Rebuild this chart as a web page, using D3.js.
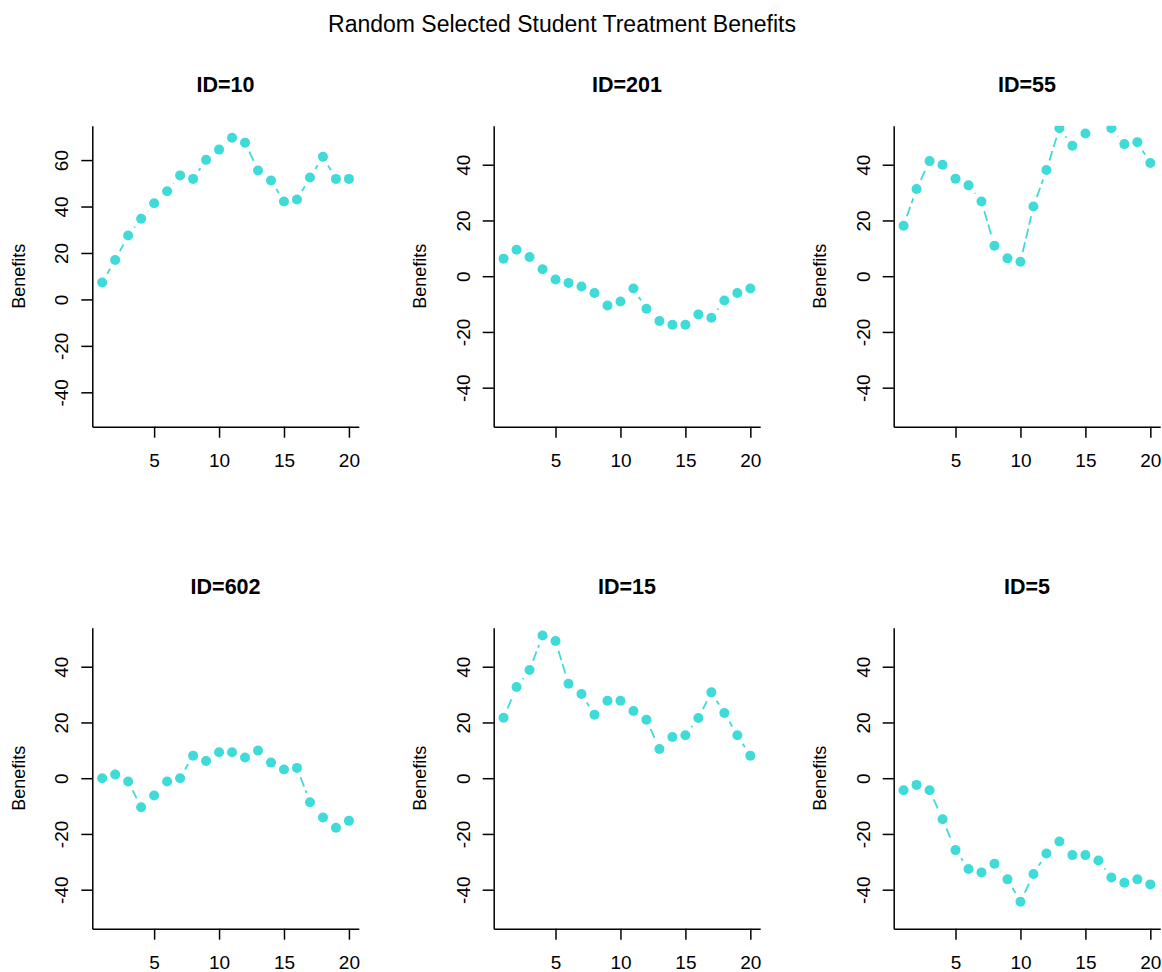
<!doctype html>
<html>
<head>
    <meta charset="UTF-8">
    <title>Random Selected Student Treatment Benefits</title>
    <script src="https://d3js.org/d3.v7.min.js"></script>
    <style>
        body { margin: 0; background: #fff; }
        text { font-family: "Liberation Sans", Arial, sans-serif; fill: #000; }
    </style>
</head>
<body>
  <svg width="1162" height="972"></svg>
   <script>
       // values
       var ids = ["10", "201", "55", "602", "15", "5"];
       var weeks = [1,2,3,4,5,6,7,8,9,10,11,12,13,14,15,16,17,18,19,20];
       var benefits10  = [7.3,17.0,27.5,34.7,41.4,46.6,53.4,51.9,60.1,64.5,69.6,67.5,55.5,51.2,42.2,43.0,52.5,61.4,51.9,51.9];
       var benefits201 = [6.3,9.5,6.9,2.5,-1.2,-2.4,-3.7,-6.0,-10.5,-9.1,-4.4,-11.7,-16.1,-17.4,-17.4,-13.7,-14.9,-8.7,-6.0,-4.4];
       var benefits55  = [18.1,31.3,41.3,40.0,35.0,32.6,26.8,10.9,6.4,5.2,25.0,38.1,53.1,46.8,51.2,56.5,53.1,47.4,48.1,40.6];
       var benefits602 = [0,1.3,-1.2,-10.4,-6.2,-1.2,0,8.1,6.2,9.3,9.3,7.4,9.9,5.6,3.1,3.7,-8.6,-14.1,-17.8,-15.3];
       var benefits15  = [21.7,32.7,38.8,51.2,49.2,33.9,30.2,22.8,27.8,27.8,24.1,21.0,10.5,14.8,15.4,21.6,30.8,23.4,15.4,8.1];
       var benefits5   = [-4.3,-2.4,-4.3,-14.7,-25.8,-32.6,-33.8,-30.7,-36.3,-44.3,-34.4,-27.0,-22.7,-27.6,-27.6,-29.5,-35.6,-37.5,-36.3,-38.1];
       var allBenefits = [benefits10, benefits201, benefits55, benefits602, benefits15, benefits5];
       var ylims = [[-50,70],[-50,50],[-50,50],[-50,50],[-50,50],[-50,50]];
       var yTicks = [[-40,-20,0,20,40,60],[-40,-20,0,20,40],[-40,-20,0,20,40],[-40,-20,0,20,40],[-40,-20,0,20,40],[-40,-20,0,20,40]];
       var xTicks = [5,10,15,20];

       var svg = d3.select("svg");
       var col = "#3edbd8";
       var colLeft = [92.3, 493.7, 893.7];
       var rowTop = [125.7, 627.7];
       var pw = 266.5, ph = 301;

       svg.append("text")
          .attr("x", 562).attr("y", 31.5)
          .attr("text-anchor", "middle")
          .attr("font-size", 23)
          .text("Random Selected Student Treatment Benefits");

       // R style 4% extension of a range
       function extend(lim){
           var d = (lim[1]-lim[0])*0.04;
           return [lim[0]-d, lim[1]+d];
       }
       // plain hyphen minus like R
       function plain(d){ return String(d); }

       function drawPanel(i){
           var ox = colLeft[i%3], oy = rowTop[Math.floor(i/3)];
           var g = svg.append("g").attr("transform", "translate("+ox+","+oy+")");
           var x = d3.scaleLinear().domain(extend([1,20])).range([0, pw]);
           var y = d3.scaleLinear().domain(extend(ylims[i])).range([ph, 0]);
           var data = weeks.map(function(w, k){ return {w: w, v: allBenefits[i][k]}; });

           g.append("clipPath").attr("id", "clip"+i)
            .append("rect").attr("width", pw).attr("height", ph);
           var plot = g.append("g").attr("clip-path", "url(#clip"+i+")");

           // type "b": dashed segments with a gap round each point
           var gap = 10;
           for(var k=0; k<data.length-1; k++){
               var x1 = x(data[k].w), y1 = y(data[k].v), x2 = x(data[k+1].w), y2 = y(data[k+1].v);
               var len = Math.sqrt((x2-x1)*(x2-x1)+(y2-y1)*(y2-y1));
               if(len <= 2*gap) continue;
               var ux = (x2-x1)/len, uy = (y2-y1)/len;
               plot.append("line")
                   .attr("x1", x1+ux*gap).attr("y1", y1+uy*gap)
                   .attr("x2", x2-ux*gap).attr("y2", y2-uy*gap)
                   .attr("stroke", col).attr("stroke-width", 1.8)
                   .attr("stroke-dasharray", "10,4");
           }
           plot.selectAll("circle").data(data).enter().append("circle")
               .attr("cx", function(d){ return x(d.w); })
               .attr("cy", function(d){ return y(d.v); })
               .attr("r", 5)
               .attr("fill", col);

           var ya = g.append("g").call(d3.axisLeft(y).tickValues(yTicks[i]).tickFormat(plain).tickSize(11).tickSizeOuter(0));
           ya.selectAll("text")
             .attr("transform", "rotate(-90)")
             .attr("x", 0).attr("y", -24).attr("dy", 0)
             .attr("text-anchor", "middle")
             .attr("font-size", 19);

           var xa = g.append("g").attr("transform", "translate(0,"+ph+")")
                     .call(d3.axisBottom(x).tickValues(xTicks).tickFormat(plain).tickSize(11).tickSizeOuter(0));
           xa.selectAll("text").attr("y", 40).attr("dy", 0).attr("font-size", 19);

           g.selectAll(".domain, .tick line").attr("stroke", "#000").attr("stroke-width", 1.5);
           g.selectAll(".tick text").attr("fill", "#000").attr("font-family", "Liberation Sans, Arial, sans-serif");

           g.append("text")
            .attr("transform", "translate(-67.3,"+(ph/2)+") rotate(-90)")
            .attr("text-anchor", "middle")
            .attr("font-size", 18)
            .text("Benefits");

           g.append("text")
            .attr("x", pw/2).attr("y", -34.2)
            .attr("text-anchor", "middle")
            .attr("font-size", 21.5)
            .attr("font-weight", "bold")
            .text("ID="+ids[i]);
       }

       for(var i=0; i<ids.length; i++){
           drawPanel(i);
       }
    </script>
</body>
</html>
